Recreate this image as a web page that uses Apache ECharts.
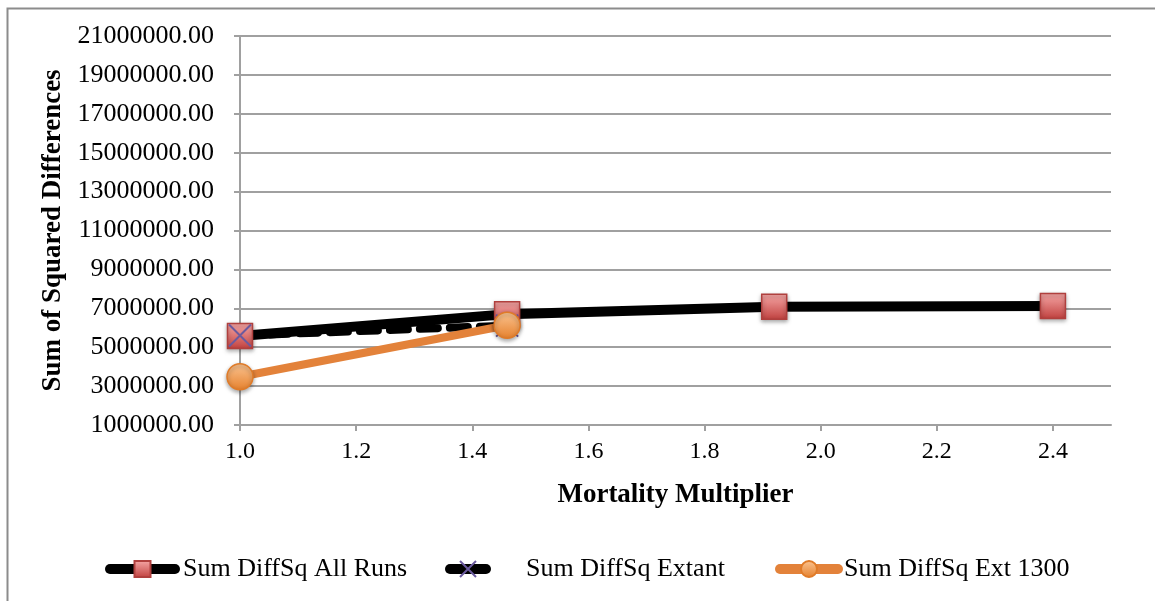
<!DOCTYPE html>
<html>
<head>
<meta charset="utf-8">
<script src="https://cdn.jsdelivr.net/npm/echarts@6/dist/echarts.min.js"></script>
<style>
  html, body { margin: 0; padding: 0; background: #fff; }
  #chart { width: 1155px; height: 601px; }
</style>
</head>
<body>
<div id="chart"></div>
<script>
// values
const multipliers = [1.0, 1.46, 1.92, 2.4]
const allRuns = [5580000, 6700000, 7080000, 7120000]
const extantX = [1.0, 1.46]
const extant = [5600000, 6110000]
const ext1300X = [1.0, 1.46]
const ext1300 = [3480000, 6130000]
const xTicks = [1.0, 1.2, 1.4, 1.6, 1.8, 2.0, 2.2, 2.4]
const seriesNames = ['Sum DiffSq All Runs', 'Sum DiffSq Extant', 'Sum DiffSq Ext 1300']

const serif = 'Liberation Serif, Times New Roman, serif'
const gridGray = '#a0a0a0'
const legendText = { fontFamily: serif, fontSize: 26, color: '#000' }

const pairs = (xs, ys) => xs.map((x, i) => [x, ys[i]])

const squareFill = new echarts.graphic.LinearGradient(0, 0, 0, 1, [
  { offset: 0, color: '#f7a9a8' },
  { offset: 1, color: '#c0403e' },
])
const circleFill = new echarts.graphic.LinearGradient(0, 0, 0, 1, [
  { offset: 0, color: '#fbc593' },
  { offset: 1, color: '#e5802c' },
])
const markerShadow = {
  shadowBlur: 4,
  shadowColor: 'rgba(0,0,0,0.35)',
  shadowOffsetY: 2,
}
const crossPath = 'path://M0,0L10,10M10,0L0,10'

const chart = echarts.init(document.getElementById('chart'))
chart.setOption({
  animation: false,
  textStyle: { fontFamily: serif, color: '#000' },
  graphic: [
    {
      type: 'rect',
      left: 5,
      top: 6,
      shape: { width: 1170, height: 620 },
      style: { fill: 'none', stroke: '#8c8c8c', lineWidth: 2 },
      silent: true,
    },
  ],
  grid: { left: 240, right: 44, top: 36, bottom: 176 },
  legend: [
    {
      data: [seriesNames[0]],
      left: 100,
      top: 551,
      itemWidth: 65,
      itemHeight: 20,
      lineStyle: { width: 10, cap: 'round' },
      textStyle: { ...legendText, padding: [0, 0, 0, 3] },
    },
    {
      data: [seriesNames[1]],
      left: 440,
      top: 551,
      itemWidth: 36,
      itemHeight: 20,
      lineStyle: { width: 10, cap: 'round', type: 'solid' },
      textStyle: { ...legendText, padding: [0, 0, 0, 35] },
    },
    {
      data: [seriesNames[2]],
      left: 770,
      top: 551,
      itemWidth: 58,
      itemHeight: 20,
      lineStyle: { width: 10, cap: 'round' },
      textStyle: { ...legendText, padding: [0, 0, 0, 1] },
    },
  ],
  xAxis: {
    type: 'value',
    min: 1.0,
    max: 2.5,
    interval: 0.2,
    name: 'Mortality Multiplier',
    nameLocation: 'middle',
    nameGap: 57,
    nameTextStyle: { fontFamily: serif, fontSize: 27, fontWeight: 'bold', color: '#000' },
    axisLine: { show: true, lineStyle: { color: gridGray, width: 2 } },
    axisTick: { show: true, length: 6, lineStyle: { color: gridGray, width: 2 }, customValues: xTicks },
    axisLabel: {
      customValues: xTicks,
      fontFamily: serif,
      fontSize: 24,
      color: '#000',
      margin: 15,
      formatter: (v) => v.toFixed(1),
    },
    splitLine: { show: false },
  },
  yAxis: {
    type: 'value',
    min: 1000000,
    max: 21000000,
    interval: 2000000,
    name: 'Sum of Squared Differences',
    nameLocation: 'middle',
    nameGap: 164,
    nameTextStyle: { fontFamily: serif, fontSize: 27, fontWeight: 'bold', color: '#000' },
    axisLine: { show: true, lineStyle: { color: gridGray, width: 2 } },
    axisTick: { show: true, length: 6, lineStyle: { color: gridGray, width: 2 } },
    axisLabel: {
      fontFamily: serif,
      fontSize: 26,
      color: '#000',
      margin: 26,
      formatter: (v) => v.toFixed(2),
    },
    splitLine: { show: true, lineStyle: { color: gridGray, width: 2 } },
  },
  series: [
    {
      name: seriesNames[0],
      type: 'line',
      data: pairs(multipliers, allRuns),
      symbol: 'rect',
      symbolSize: 25,
      lineStyle: { color: '#000', width: 10 },
      itemStyle: { color: squareFill, borderColor: '#b0403e', borderWidth: 1.5, ...markerShadow },
      emphasis: { disabled: true },
    },
    {
      name: seriesNames[1],
      type: 'line',
      data: pairs(extantX, extant),
      symbol: crossPath,
      symbolSize: 22,
      lineStyle: { color: '#000', width: 8, type: [18, 12], cap: 'round' },
      itemStyle: { color: 'none', borderColor: '#6b5a9e', borderWidth: 2 },
      emphasis: { disabled: true },
    },
    {
      name: seriesNames[2],
      type: 'line',
      data: pairs(ext1300X, ext1300),
      symbol: 'circle',
      symbolSize: 26,
      lineStyle: { color: '#e3823a', width: 8 },
      itemStyle: { color: circleFill, borderColor: '#e07b28', borderWidth: 1.5, ...markerShadow },
      emphasis: { disabled: true },
    },
  ],
})
</script>
</body>
</html>
